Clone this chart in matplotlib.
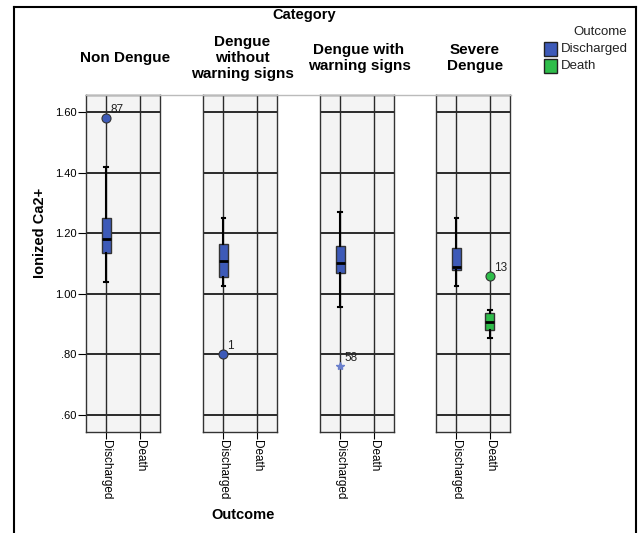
import numpy as np
import matplotlib
matplotlib.use("Agg")
import matplotlib.pyplot as plt
from matplotlib.lines import Line2D
from matplotlib.patches import Rectangle

plt.rcParams['font.family'] = ['Liberation Sans', 'DejaVu Sans']

# data: five-number summaries
categories = ['Non Dengue', 'Dengue\nwithout\nwarning signs', 'Dengue with\nwarning signs', 'Severe\nDengue']
outcomes = ['Discharged', 'Death']
# per category: Discharged box (whislo, q1, med, q3, whishi), Death box or None
discharged_stats = [
    [1.04, 1.135, 1.18, 1.25, 1.42],
    [1.027, 1.054, 1.109, 1.164, 1.25],
    [0.957, 1.069, 1.10, 1.159, 1.27],
    [1.027, 1.078, 1.089, 1.15, 1.25],
]
death_stats = [None, None, None, [0.853, 0.882, 0.907, 0.937, 0.947]]
# outliers: category index, outcome index, value, case label, kind
outlier_cat = [0, 1, 2, 3]
outlier_out = [0, 0, 0, 1]
outlier_val = [1.58, 0.80, 0.761, 1.058]
outlier_lab = ['87', '1', '58', '13']
outlier_kind = ['o', 'o', '*', 'o']
yticks = [0.60, 0.80, 1.00, 1.20, 1.40, 1.60]
yticklabels = ['.60', '.80', '1.00', '1.20', '1.40', '1.60']

blue = '#3D5AB8'
green = '#2EBD4A'
colors = [blue, green]

W, H = 638, 533
fig = plt.figure(figsize=(W / 100, H / 100), dpi=100)

def fx(px):
    return px / W

def fy(py):
    return 1 - py / H

# outer frame
for xs, ys in [((14, 14), (7, 533)), ((14, 636), (7, 7)), ((636, 636), (7, 533))]:
    fig.add_artist(Line2D([fx(xs[0]), fx(xs[1])], [fy(ys[0]), fy(ys[1])], color='black', lw=1.5))

# grey connector across panel tops
fig.add_artist(Line2D([fx(86), fx(511)], [fy(95), fy(95)], color='#BBBBBB', lw=1.0))

lefts = [86, 203, 320, 436]
pw = 74
top, bottom = 95, 432
ylim = (0.544, 1.656)

for i, cat in enumerate(categories):
    ax = fig.add_axes([fx(lefts[i]), fy(bottom), fx(pw), (bottom - top) / H])
    ax.set_facecolor('#F4F4F4')
    ax.set_xlim(-0.6, 1.6)
    ax.set_ylim(*ylim)
    for y in yticks:
        ax.axhline(y, color='#1A1A1A', lw=1.3, zorder=1)
    for x in [0, 1]:
        ax.axvline(x, color='#2A2A2A', lw=1.0, zorder=1)
    for s in ax.spines.values():
        s.set_color('#333333')
        s.set_linewidth(1.0)

    boxes = [discharged_stats[i], death_stats[i]]
    for j, b in enumerate(boxes):
        if b is None:
            continue
        st = [dict(whislo=b[0], q1=b[1], med=b[2], q3=b[3], whishi=b[4], fliers=[])]
        ax.bxp(st, positions=[j], widths=0.27, patch_artist=True, showfliers=False,
               boxprops=dict(facecolor=colors[j], edgecolor='#333333', lw=1.0),
               medianprops=dict(color='black', lw=2),
               whiskerprops=dict(color='black', lw=1.5),
               capprops=dict(color='black', lw=1.5), capwidths=0.1,
               manage_ticks=False)

    for c, o, v, lab, k in zip(outlier_cat, outlier_out, outlier_val, outlier_lab, outlier_kind):
        if c != i:
            continue
        if k == 'o':
            ax.plot(o, v, 'o', ms=6.5, mfc=colors[o], mec='#333333', mew=0.8, zorder=5)
        else:
            ax.plot(o, v, '*', ms=6, color='#6A7FCC', zorder=5)
        ax.text(o + 0.12, v + 0.008, lab, fontsize=8.5, va='bottom', ha='left', color='#222222')

    ax.set_xticks([0, 1])
    ax.set_xticklabels(outcomes, rotation=-90, fontsize=8.5)
    ax.tick_params(axis='x', length=5, color='black', pad=1)
    if i == 0:
        ax.set_yticks(yticks)
        ax.set_yticklabels(yticklabels, fontsize=8)
        ax.tick_params(axis='y', length=6, color='black', pad=1)
    else:
        ax.set_yticks([])

    fig.text(fx(lefts[i] + pw / 2 + 2), fy(58), cat, ha='center', va='center',
             fontsize=11, fontweight='bold', linespacing=1.15)

fig.text(fx(304), fy(15), 'Category', ha='center', va='center', fontsize=10.5, fontweight='bold')
fig.text(fx(243), fy(515), 'Outcome', ha='center', va='center', fontsize=10.5, fontweight='bold')
fig.text(fx(40), fy(233), 'Ionized Ca2+', ha='center', va='center', rotation=90,
         fontsize=10.5, fontweight='bold')

# legend
fig.text(fx(600), fy(32), 'Outcome', ha='center', va='center', fontsize=9.5, color='#222222')
for k, (lab, col) in enumerate(zip(outcomes, colors)):
    yc = 49 + k * 17
    fig.add_artist(Rectangle((fx(544), fy(yc + 7)), fx(13), 14 / H, facecolor=col,
                             edgecolor='#222222', lw=1.0))
    fig.text(fx(561), fy(yc), lab, ha='left', va='center', fontsize=9.5, color='#222222')

fig.savefig('out.png', dpi=100)
